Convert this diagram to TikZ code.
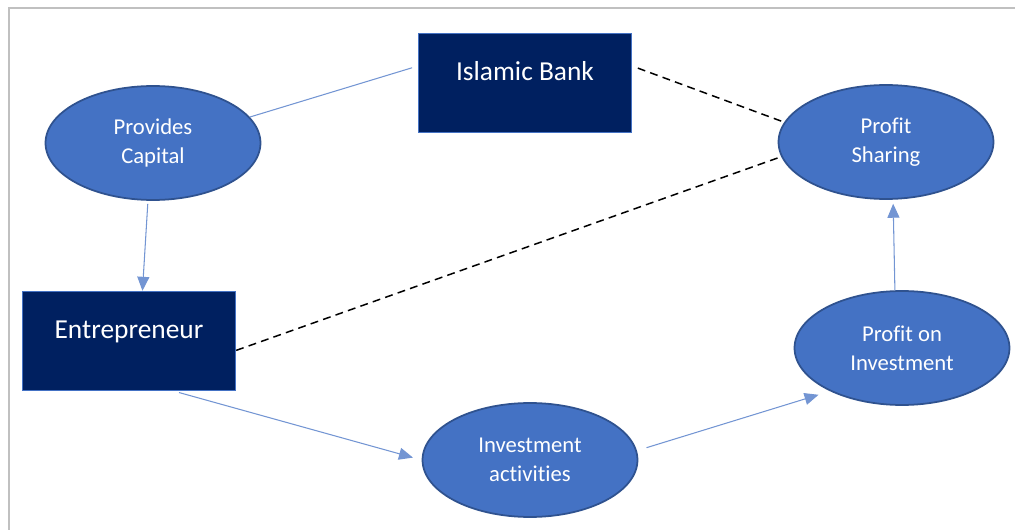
\documentclass[tikz,border=0pt]{standalone}
\usepackage{fontspec}
\setmainfont{Carlito}[Ligatures=NoCommon]
\usetikzlibrary{shapes.geometric,arrows.meta}
\definecolor{accent}{HTML}{4472C4}
\definecolor{accentdark}{HTML}{2F528F}
\definecolor{navy}{HTML}{002060}
\definecolor{framegray}{HTML}{C0C0C0}
\tikzset{
	party/.style={rectangle, draw=accent, line width=0.8pt, fill=navy, text=white,
		minimum width=4.26cm, minimum height=1.98cm, font=\fontsize{15.6}{19}\selectfont,
		text height=0.32cm, text depth=0.4cm},
	stage/.style={ellipse, draw=accentdark, line width=1pt, fill=accent, text=white,
		minimum width=4.3cm, minimum height=2.28cm, align=center, inner sep=0pt,
		font=\fontsize{12.9}{16.5}\selectfont},
	link/.style={draw=accent!75, line width=0.6pt},
	flow/.style={link, -{Triangle[length=0.28cm,width=0.24cm]}},
	share/.style={draw=black, line width=0.85pt, dash pattern=on 4.5pt off 3pt}
}

\begin{document}
\begin{tikzpicture}[x=0.02cm, y=-0.02cm]
\useasboundingbox (0,0) rectangle (1015,530);
\draw[framegray, line width=0.85pt] (9,530) -- (9,8) -- (1015,8);
\node[party] (bank) at (525,83) {Islamic Bank};
\node[party] (ent) at (129,341) {Entrepreneur};
\node[stage] (cap) at (153,143) {Provides\\Capital};
\node[stage] (ps) at (886,142) {Profit\\Sharing};
\node[stage] (poi) at (902,348) {Profit on\\Investment};
\node[stage] (inv) at (530,460) {Investment\\activities};
\draw[link, shorten >=0.12cm] (cap.15) -- (bank.171);
\draw[share, shorten <=0.12cm] (bank.9) -- (ps.169);
\draw[share] (ent.-5) -- (ps.188);
\draw[flow, shorten <=0.06cm] (cap.265) -- (ent.75);
\draw[flow, shorten <=0.1cm, shorten >=0.18cm] (ent.-48) -- (inv.west);
\draw[flow, shorten <=0.2cm, shorten >=0.24cm] (inv.5) -- (poi.211);
\draw[flow, shorten >=0.08cm] (poi.97) -- (ps.277);
\end{tikzpicture}
\end{document}
